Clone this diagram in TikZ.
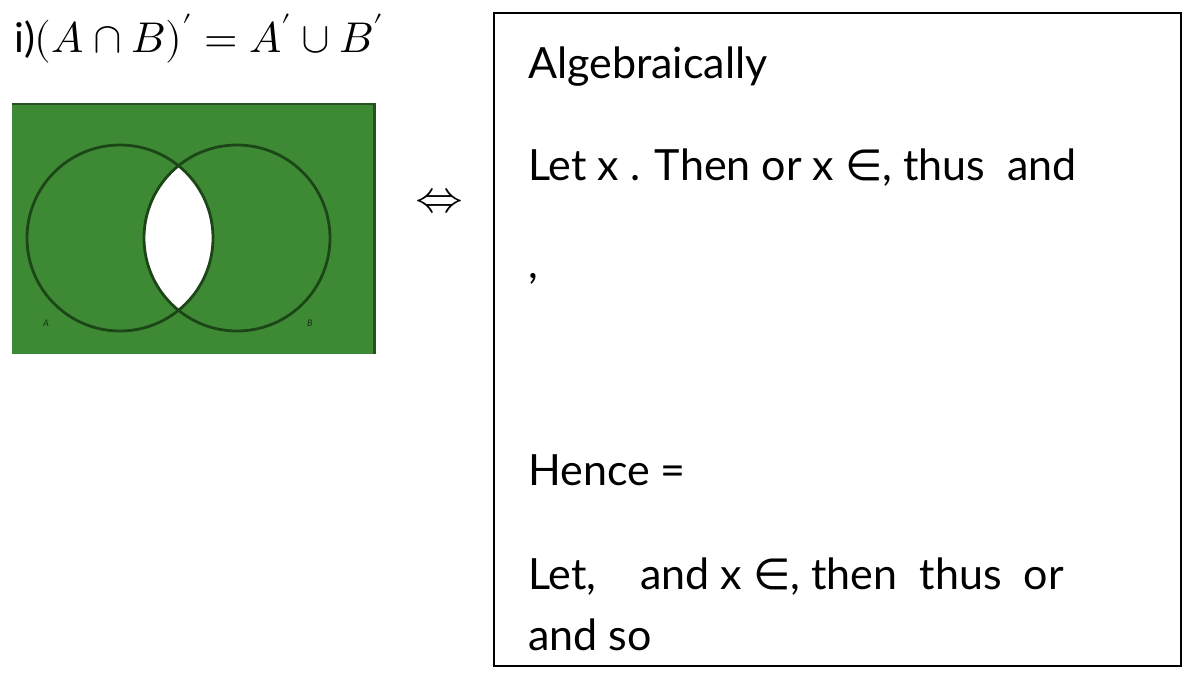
\documentclass[tikz,border=0pt]{standalone}
\usepackage{fontspec}
\usepackage{unicode-math}
\setmainfont{Lato}
\setmathfont{Latin Modern Math}
\newfontfamily\symf{DejaVu Sans}
\begin{document}
\begin{tikzpicture}[x=1pt,y=-1pt,
  boxtext/.style={anchor=base west,inner sep=0pt,font=\fontsize{43}{50}\selectfont},
  venncircle/.style={draw=vennline,line width=2.8pt},
  tiny/.style={font=\fontsize{9}{10}\selectfont\bfseries\itshape,text=vennline,inner sep=0pt}]
\definecolor{venngreen}{RGB}{62,138,52}
\definecolor{vennline}{RGB}{28,70,24}
\definecolor{vennedge}{RGB}{40,80,35}
\useasboundingbox (0,0) rectangle (1194,680);
% title
\node[anchor=base west,inner sep=0pt,font=\fontsize{41}{48}\selectfont] (title) at (14,52)
  {i)\fontsize{43}{50}\selectfont$(A\cap B)'=A'\cup B'$};
% venn
\node[draw=none,fill=venngreen,minimum width=362pt,minimum height=250pt,inner sep=0pt,anchor=north west] (frame) at (12,104) {};
\draw[vennedge,line width=2.5pt] (frame.north west) -- (frame.north east) -- (frame.south east);
\begin{scope}
  \clip (120,238) circle (93);
  \fill[white] (237,238) circle (93);
\end{scope}
\node[venncircle,circle,minimum size=186pt,inner sep=0pt] (cA) at (120,238) {};
\node[venncircle,circle,minimum size=186pt,inner sep=0pt] (cB) at (237,238) {};
\node[tiny] (lA) at (46,323) {A};
\node[tiny] (lB) at (310,323) {B};
% equivalence
\node[inner sep=0pt,font=\fontsize{46}{50}\selectfont] (eq) at (439,201) {$\Leftrightarrow$};
% box
\draw[line width=2.5pt] (494,13) rectangle (1181,666);
\node[boxtext] (t1) at (528,78) {Algebraically};
\node[boxtext] (t2) at (528,180) {Let x . Then or x {\symf ∈}, thus~ and};
\node[boxtext] (t3) at (528,278) {,};
\node[boxtext] (t4) at (528,485) {Hence =};
\node[boxtext] (t5) at (528,589) {Let,~~~ and x {\symf ∈}, then~ thus~ or};
\node[boxtext] (t6) at (528,650) {and so};
\end{tikzpicture}
\end{document}
